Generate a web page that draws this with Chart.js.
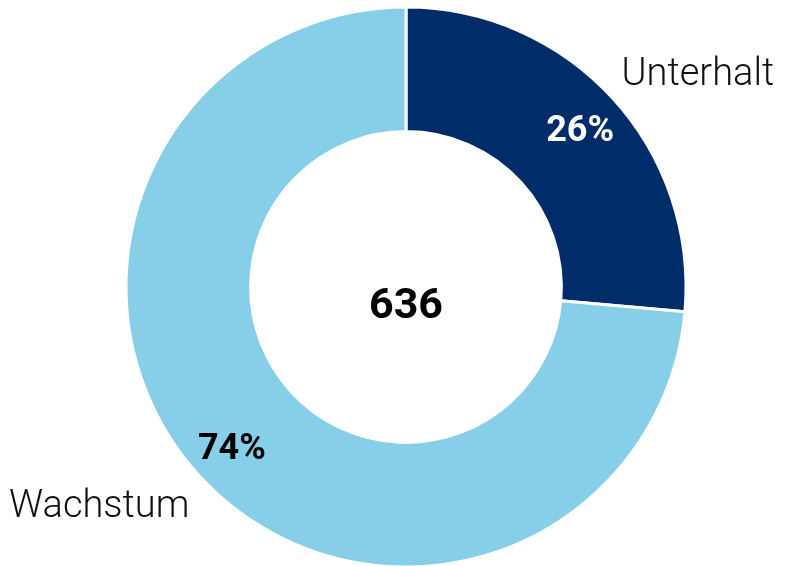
<!DOCTYPE html>
<html>
<head>
<meta charset="utf-8">
<script src="https://cdn.jsdelivr.net/npm/chart.js@4.4.0/dist/chart.umd.min.js"></script>
<style>
  html, body { margin: 0; padding: 0; background: #fff; }
  #wrap { width: 786px; height: 566px; position: relative; }
</style>
</head>
<body>
<div id="wrap"><canvas id="DonutChart"></canvas></div>
<script>
// data
const categories = ['Unterhalt', 'Wachstum'];
const values = [168, 468];
const sliceColors = ['#002D6A', '#87CEE9'];
const pctColors = ['#ffffff', '#000000'];

const total = values.reduce((a, b) => a + b, 0);

// draws the percentages, category names and the total in the middle
const labelPlugin = {
    id: 'donutLabels',
    afterDraw(chart) {
        const ctx = chart.ctx;
        const arcs = chart.getDatasetMeta(0).data;
        ctx.save();
        ctx.textBaseline = 'alphabetic';
        arcs.forEach((arc, i) => {
            const mid = (arc.startAngle + arc.endAngle) / 2;
            const cos = Math.cos(mid), sin = Math.sin(mid);
            // percentage inside the ring
            const rp = 236;
            ctx.fillStyle = pctColors[i];
            ctx.font = 'bold 36px Roboto';
            ctx.textAlign = 'center';
            const pct = Math.round(values[i] / total * 100) + '%';
            ctx.fillText(pct, arc.x + cos * rp, arc.y + sin * rp + 13);

            // category name just outside
            const px = arc.x + cos * arc.outerRadius;
            const py = arc.y + sin * arc.outerRadius;
            ctx.fillStyle = '#111';
            ctx.font = '300 38px Roboto';
            if (cos >= 0) {
                ctx.textAlign = 'left';
                ctx.fillText(categories[i], px + 9, py - 13);
            } else {
                ctx.textAlign = 'right';
                ctx.fillText(categories[i], px - 10, py + 41);
            }
        });
        ctx.fillStyle = '#000';
        ctx.font = 'bold 43px Roboto';
        ctx.textAlign = 'center';
        ctx.fillText(String(total), arcs[0].x, arcs[0].y + 31);
        ctx.restore();
    }
};

const ctx = document.getElementById('DonutChart').getContext('2d');
const DonutChart = new Chart(ctx, {
    type: 'doughnut',
    data: {
        labels: categories,
        datasets: [{
            data: values,
            backgroundColor: sliceColors,
            borderColor: '#ffffff',
            borderWidth: 3,
        }],
    },
    options: {
        responsive: true,
        maintainAspectRatio: false,
        animation: false,
        radius: 280,
        cutout: 154,
        layout: { padding: { left: 26, top: 8 } },
        plugins: {
            legend: { display: false },
            tooltip: { enabled: false },
        },
    },
    plugins: [labelPlugin],
});
</script>
</body>
</html>
